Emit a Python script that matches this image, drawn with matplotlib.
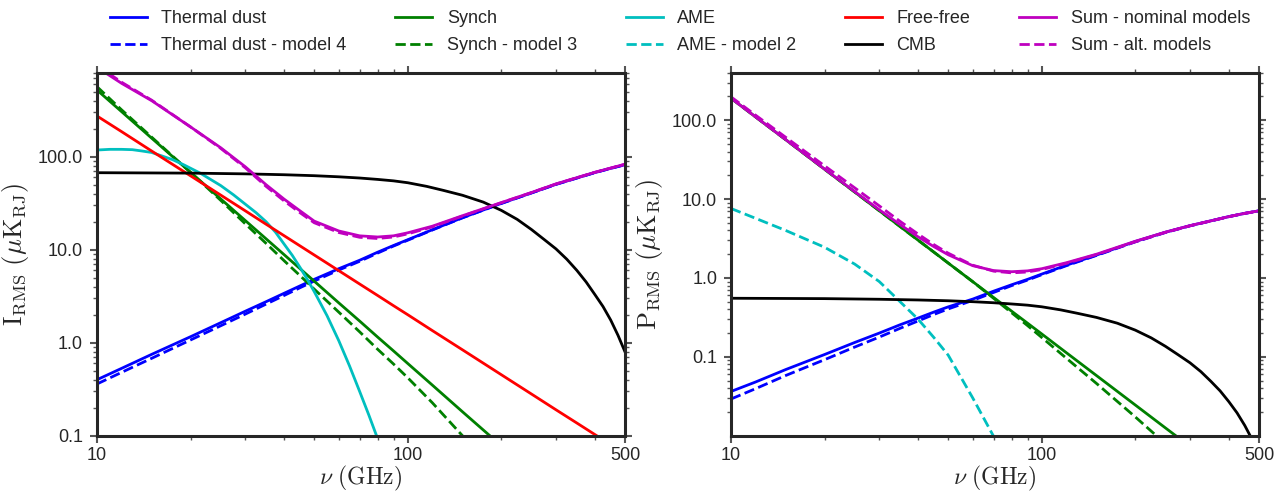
import numpy as np
import matplotlib.pyplot as plt
from matplotlib.lines import Line2D
from matplotlib.ticker import FixedLocator, FixedFormatter, LogLocator, NullFormatter

plt.rcParams['font.family'] = ['Liberation Sans', 'DejaVu Sans']
plt.rcParams['mathtext.fontset'] = 'cm'
plt.rcParams['text.color'] = '#262626'
plt.rcParams['axes.labelcolor'] = '#262626'

nan = np.nan

# frequency grid (GHz) shared by most components
nu = [10, 12, 15, 20, 25, 30, 35, 40, 45, 50, 60, 70, 80, 90, 100, 120, 150,
      200, 250, 300, 350, 400, 450, 500]
# finer grids for the strongly curved components
nu_ame = [10, 11, 12, 13, 14, 15, 16.3, 17.5, 19, 21.5, 23, 25, 27.5, 30, 32.5,
          35, 37.5, 40, 42.5, 45, 47.5, 50, 55, 60, 65, 70, 75, 80, 85, 90, 100]
nu_cmb = [10, 20, 30, 40, 50, 60, 70, 80, 90, 100, 115, 130, 150, 175, 200, 225,
          250, 275, 300, 325, 350, 375, 400, 425, 450, 475, 500]

# --- intensity (left panel), uK_RJ ---
dust_I = [0.40, 0.53, 0.75, 1.16, 1.64, 2.18, 2.76, 3.40, 4.08, 4.80, 6.25, 7.7,
          9.4, 11.1, 12.8, 16.4, 22.1, 31.5, 40.8, 50.5, 59, 67.5, 75, 82]
dust4_I = [0.36, 0.48, 0.68, 1.07, 1.52, 2.03, 2.60, 3.22, 3.90, 4.60, 6.05, 7.5,
           9.2, 10.95, 12.65, 16.3, 22.0, 31.4, 40.7, 50.4, 58.9, 67.4, 74.9, 81.9]
synch_I = [521, 305, 158, 67.9, 35.2, 20.6, 13.1, 8.85, 6.26, 4.59, 2.68, 1.71,
           1.15, 0.816, 0.598, 0.350, 0.181, 0.078, 0.040, 0.0236, 0.0150, 0.0102,
           0.0072, 0.0053]
synch3_I = [566, 319, 162, 67.9, 34.0, 19.0, 11.7, 7.62, 5.27, 3.77, 2.13, 1.31,
            0.85, 0.59, 0.42, 0.226, 0.100, 0.038, 0.017, 0.009, 0.0052, 0.0032,
            0.0021, 0.0014]
ame_I = [118, 120, 120, 119, 115, 111, 101, 93, 82, 66.5, 58, 49, 38.9, 30.9, 25,
         20, 15.5, 11.5, 8.7, 6.46, 4.8, 3.55, 1.95, 1.05, 0.56, 0.30, 0.166, 0.093,
         0.052, 0.030, 0.010]
ff_I = [274, 186, 115, 62.3, 38.7, 26.2, 18.8, 14.15, 11.0, 8.78, 5.95, 4.28, 3.22,
        2.50, 2.00, 1.35, 0.839, 0.453, 0.281, 0.190, 0.137, 0.103, 0.080, 0.064]
cmb_I = [67.3, 66.6, 65.4, 64.0, 62.5, 60.8, 59.0, 57.0, 55.0, 52.5, 48.0, 43.5,
         38.5, 32.5, 26.5, 21.2, 16.5, 12.85, 10.2, 7.9, 6.0, 4.5, 3.3, 2.45, 1.75,
         1.2, 0.8]
sum_I = [915, 615, 400, 209, 125, 78, 50, 35, 26.2, 20.3, 15.9, 14.1, 13.7, 14.1,
         15.2, 17.9, 23.2, 32.1, 41.2, 51, 59.5, 68, 75.5, 83]
sumalt_I = [960, 632, 405, 209, 123, 76, 48, 33.5, 25, 19.5, 15.3, 13.6, 13.2,
            13.7, 14.8, 17.6, 23.0, 32.0, 41.1, 50.9, 59.4, 67.9, 75.4, 82.9]

# --- polarization (right panel), uK_RJ ---
dust_P = [0.0364, 0.048, 0.069, 0.107, 0.152, 0.20, 0.255, 0.31, 0.37, 0.43, 0.54,
          0.68, 0.82, 0.96, 1.12, 1.45, 1.95, 2.9, 3.8, 4.6, 5.3, 6.0, 6.6, 7.1]
dust4_P = [0.0292, 0.0395, 0.058, 0.092, 0.133, 0.178, 0.23, 0.285, 0.345, 0.405,
           0.52, 0.655, 0.80, 0.94, 1.10, 1.43, 1.93, 2.87, 3.77, 4.58, 5.28, 5.98,
           6.58, 7.08]
synch_P = [190, 110, 56.6, 23.9, 12.3, 7.12, 4.49, 3.01, 2.12, 1.545, 0.896, 0.565,
           0.379, 0.267, 0.195, 0.1128, 0.0579, 0.0245, 0.01256, 0.0073, 0.0046,
           0.0031, 0.00217, 0.00158]
synch3_P = [190, 110, 56.6, 23.9, 12.3, 7.12, 4.49, 3.01, 2.12, 1.545, 0.896, 0.552,
            0.362, 0.249, 0.176, 0.096, 0.046, 0.0173, 0.0079, 0.0042, 0.0024,
            0.0015, 0.0010, 0.00067]
ame2_P = [7.6, 5.7, 4.0, 2.45, 1.5, 0.9, 0.5, 0.3, 0.175, 0.105, 0.03, 0.0098,
          0.003, 0.001, nan, nan, nan, nan, nan, nan, nan, nan, nan, nan]
cmb_P = [0.553, 0.547, 0.537, 0.526, 0.514, 0.500, 0.485, 0.468, 0.452, 0.431,
         0.394, 0.357, 0.316, 0.267, 0.218, 0.174, 0.136, 0.106, 0.084, 0.065,
         0.049, 0.037, 0.027, 0.0195, 0.0135, 0.0090, 0.0058]
sum_P = [190, 110, 56.7, 24.0, 12.45, 7.32, 4.75, 3.32, 2.49, 1.97, 1.43, 1.24,
         1.20, 1.23, 1.31, 1.56, 2.0, 2.92, 3.81, 4.61, 5.3, 6.0, 6.6, 7.1]
sumalt_P = [197.6, 115.7, 60.7, 26.4, 13.9, 8.2, 5.22, 3.6, 2.64, 2.06, 1.45, 1.22,
            1.16, 1.19, 1.28, 1.53, 1.98, 2.87, 3.78, 4.58, 5.28, 5.98, 6.58, 7.08]

labels = ['Thermal dust', 'Thermal dust - model 4', 'Synch', 'Synch - model 3',
          'AME', 'AME - model 2', 'Free-free', 'CMB',
          'Sum - nominal models', 'Sum - alt. models']
colors = ['b', 'b', 'g', 'g', 'c', 'c', 'r', 'k', 'm', 'm']
styles = ['-', '--', '-', '--', '-', '--', '-', '-', '-', '--']

LW = 2.0
fig = plt.figure(figsize=(12.78, 4.93), dpi=100)
axL = fig.add_axes([0.0759, 0.1162, 0.4131, 0.7363])
axR = fig.add_axes([0.5720, 0.1162, 0.4131, 0.7363])

series_L = [(nu, dust_I, 0), (nu, dust4_I, 1), (nu, synch_I, 2), (nu, synch3_I, 3),
            (nu_ame, ame_I, 4), (nu, ff_I, 6), (nu_cmb, cmb_I, 7),
            (nu, sum_I, 8), (nu, sumalt_I, 9)]
series_R = [(nu, dust_P, 0), (nu, dust4_P, 1), (nu, synch_P, 2), (nu, synch3_P, 3),
            (nu, ame2_P, 5), (nu_cmb, cmb_P, 7), (nu, sum_P, 8), (nu, sumalt_P, 9)]

for ax, series in [(axL, series_L), (axR, series_R)]:
    for x, vals, k in series:
        ax.plot(x, vals, color=colors[k], ls=styles[k], lw=LW)

def style_axis(ax, ylim, ylabel):
    ax.set_xscale('log')
    ax.set_yscale('log')
    ax.set_xlim(10, 500)
    ax.set_ylim(*ylim)
    ax.xaxis.set_major_locator(FixedLocator([10, 100, 500]))
    ax.xaxis.set_major_formatter(FixedFormatter(['10', '100', '500']))
    ax.xaxis.set_minor_locator(FixedLocator([20, 30, 40, 50, 60, 70, 80, 90,
                                             200, 300, 400]))
    ax.xaxis.set_minor_formatter(NullFormatter())
    ax.yaxis.set_major_locator(FixedLocator([0.1, 1, 10, 100]))
    ax.yaxis.set_major_formatter(FixedFormatter(['0.1', '1.0', '10.0', '100.0']))
    ax.yaxis.set_minor_locator(LogLocator(base=10, subs=np.arange(2, 10)))
    ax.yaxis.set_minor_formatter(NullFormatter())
    ax.tick_params(which='both', direction='out', top=True, right=True,
                   color='#555555', labelcolor='#262626', labelsize=13)
    ax.tick_params(which='major', length=5, width=1.5, pad=5)
    ax.tick_params(axis='x', which='major', pad=3)
    ax.tick_params(which='minor', length=3, width=1.0)
    for s in ax.spines.values():
        s.set_linewidth(2.2)
        s.set_color('#262626')
    ax.set_xlabel(r'$\nu\ (\mathrm{GHz})$', fontsize=17, labelpad=0)
    ax.set_ylabel(ylabel, fontsize=19, labelpad=5)

style_axis(axL, (0.1, 800), r'$\mathrm{I}_{\mathrm{RMS}}\ (\mu\mathrm{K}_{\mathrm{RJ}})$')
style_axis(axR, (0.01, 400), r'$\mathrm{P}_{\mathrm{RMS}}\ (\mu\mathrm{K}_{\mathrm{RJ}})$')

handles = [Line2D([], [], color=c, ls=s, lw=LW) for c, s in zip(colors, styles)]
fig.legend(handles, labels, loc='upper center', bbox_to_anchor=(0.532, 1.012),
           ncol=5, frameon=False, fontsize=13, handlelength=2.05,
           handletextpad=0.8, columnspacing=2.7, labelspacing=0.55)

fig.savefig('out.png', dpi=100)
